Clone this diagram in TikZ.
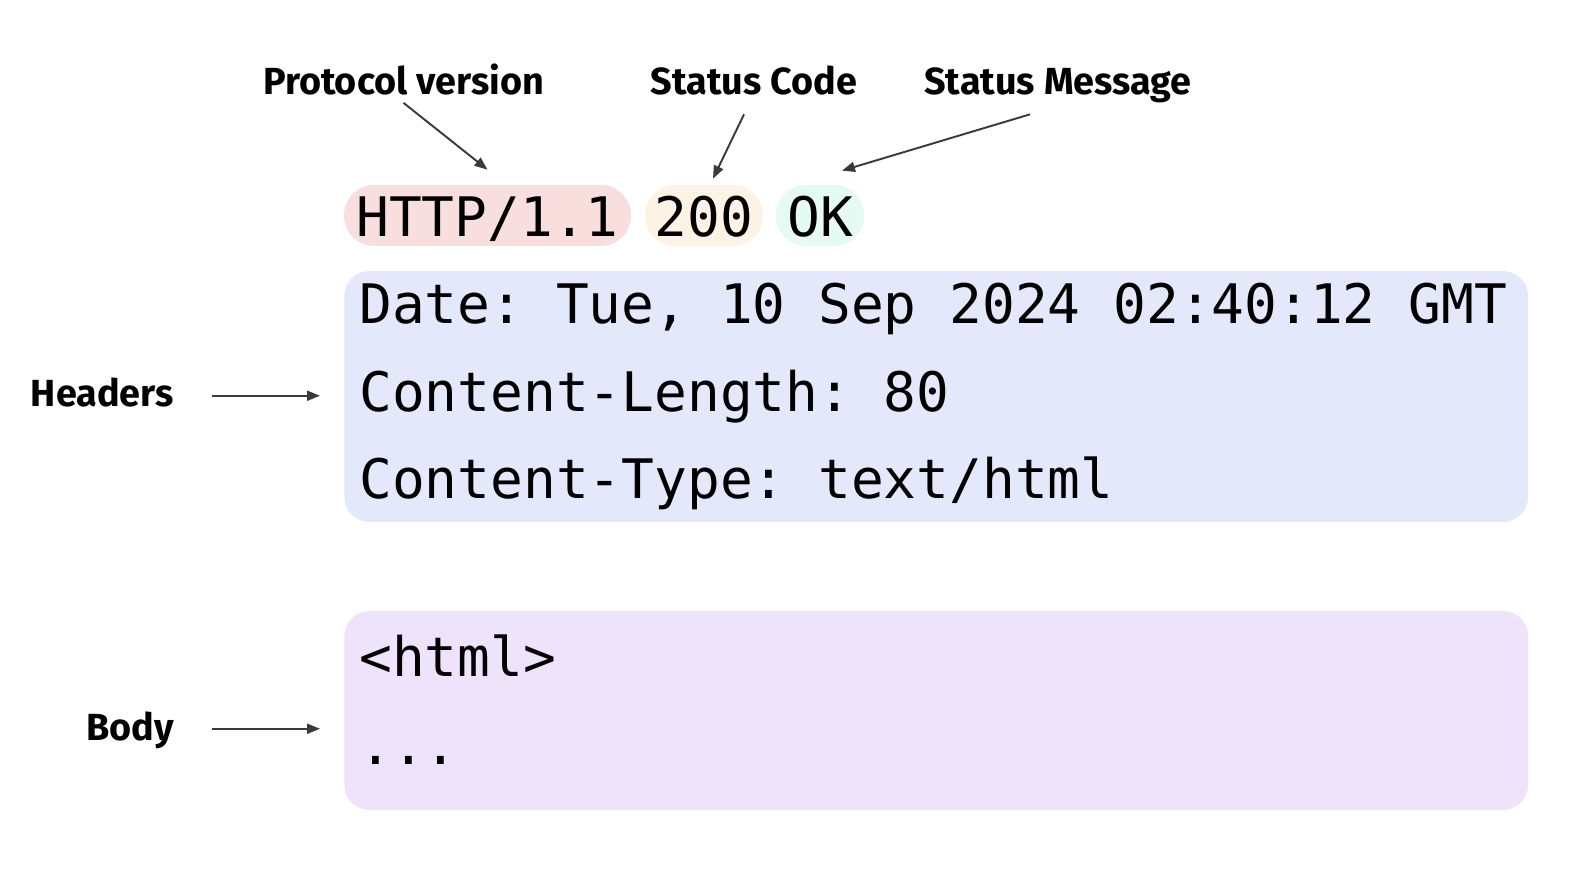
\documentclass[tikz,border=0pt]{standalone}
\usepackage{fontspec}
\setsansfont{Fira Sans}
\setmonofont{DejaVu Sans Mono}
\usetikzlibrary{arrows.meta}

\definecolor{protofill}{HTML}{F9DEDE}
\definecolor{codefill}{HTML}{FDF3E4}
\definecolor{msgfill}{HTML}{E5FAF2}
\definecolor{headfill}{HTML}{E3E9FB}
\definecolor{bodyfill}{HTML}{EEE3FA}
\definecolor{arrowgray}{HTML}{3A3A3A}

% fixed-width spaces for the code blocks
\DeclareRobustCommand{\codefont}{\ttfamily\fontsize{31}{50}\selectfont\spaceskip=0.6021em\relax}

\begin{document}
\begin{tikzpicture}[x=0.02cm, y=-0.02cm]
  \tikzstyle{label}=[inner sep=0pt, text height=0.6cm, text depth=0.15cm,
                     font=\sffamily\bfseries\fontsize{21.5}{24}\selectfont]
  \tikzstyle{pill}=[inner sep=0pt, minimum height=1.22cm, rounded corners=0.6cm,
                    text height=0.9cm, text depth=0.04cm,
                    font=\ttfamily\fontsize{31}{36}\selectfont]
  \tikzstyle{block}=[inner xsep=0.3cm, inner ysep=0pt, text width=23.08cm, align=flush left,
                     rounded corners=0.5cm, anchor=west, font=\codefont]
  \tikzstyle{arr}=[draw=arrowgray, line width=1.1pt,
                   -{Triangle[length=0.26cm, width=0.2cm]}]
  \useasboundingbox (0,0) rectangle (1570,888);

  % start line
  \node[pill, fill=protofill, minimum width=5.74cm] (http) at (487.5,215.5) {HTTP/1.1};
  \node[pill, fill=codefill, minimum width=2.36cm] (code) at (704,215.5) {200};
  \node[pill, fill=msgfill, minimum width=1.76cm] (msg) at (820,215.5) {OK};

  % headers and body
  \node[block, fill=headfill, minimum height=5.02cm] (head) at (344,396.5)
    {Date: Tue, 10 Sep 2024 02:40:12 GMT\\Content-Length: 80\\Content-Type: text/html};
  \node[block, fill=bodyfill, minimum height=3.98cm] (body) at (344,710.5)
    {<html>\\...\rule[-0.44cm]{0pt}{0pt}};

  % labels
  \node[label, anchor=base] (pv) at (403.5,95) {Protocol version};
  \node[label, anchor=base] (sc) at (754,95) {Status Code};
  \node[label, anchor=base] (sm) at (1058,95) {Status Message};
  \node[label, anchor=base east] (hd) at (174,407) {Headers};
  \node[label, anchor=base east] (bd) at (174,740) {Body};

  % arrows
  \draw[arr] (pv.south) -- ([yshift=0.3cm]http.north);
  \draw[arr] ([xshift=-0.2cm, yshift=-0.23cm]sc.south) -- ([xshift=0.18cm, yshift=0.12cm]code.north);
  \draw[arr] ([xshift=-0.56cm, yshift=-0.23cm]sm.south) -- ([xshift=0.44cm, yshift=0.28cm]msg.north);
  \draw[arr, shorten <=0.76cm, shorten >=0.48cm] (hd.east) -- (hd.east -| head.west);
  \draw[arr, shorten <=0.76cm, shorten >=0.48cm] (bd.east) -- (bd.east -| body.west);

\end{tikzpicture}
\end{document}
